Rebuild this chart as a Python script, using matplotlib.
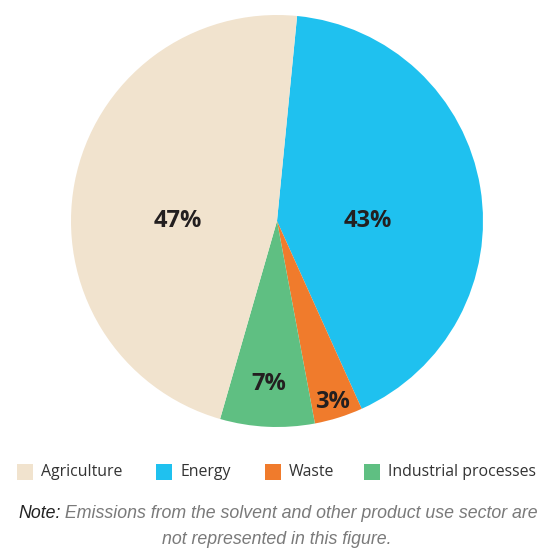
import matplotlib
matplotlib.use("Agg")
import numpy as np
import matplotlib.pyplot as plt
from matplotlib.patches import Rectangle

# ---- data (wedge sizes, labels as printed) ----
SECTORS = ["Energy", "Waste", "Industrial processes", "Agriculture"]
SHARES = [41.7, 3.8, 7.4, 47.1]
LABELS = ["43%", "3%", "7%", "47%"]
COLORS = ["#1FC1EF", "#F07B2C", "#5FBF82", "#F1E3CE"]
LEGEND_ORDER = ["Agriculture", "Energy", "Waste", "Industrial processes"]

# label placement (radius fraction, angle deg) - style only
LABEL_POS = [(0.44, 0), (0.92, -73), (0.79, -93), (0.48, 180)]
LEGEND_X = [17, 156, 265, 364]          # px, left edge of each legend swatch

W, H = 540, 548
fig = plt.figure(figsize=(W / 100, H / 100), dpi=100)

cx, cy, R = 277, 221, 206               # pie centre / radius in px
ax = fig.add_axes([(cx - R) / W, (H - cy - R) / H, 2 * R / W, 2 * R / H])
wedges, _ = ax.pie(SHARES, colors=COLORS, startangle=84.4, counterclock=False,
                   radius=1.0, wedgeprops=dict(linewidth=0))
for lab, (r, a) in zip(LABELS, LABEL_POS):
    t = np.deg2rad(a)
    ax.text(r * np.cos(t), r * np.sin(t), lab, ha="center", va="center",
            fontsize=17, fontweight="bold", color="#231F20", family="Open Sans")
ax.set_xlim(-1, 1); ax.set_ylim(-1, 1)
ax.set_aspect("equal")
ax.axis("off")

# ---- legend (swatch + text per entry, laid out on one row) ----
col = dict(zip(SECTORS, COLORS))
ly = 471.5
for name, x0 in zip(LEGEND_ORDER, LEGEND_X):
    fig.add_artist(Rectangle((x0 / W, 1 - (ly + 8) / H), 16 / W, 16 / H,
                             transform=fig.transFigure, facecolor=col[name],
                             edgecolor="none"))
    fig.text((x0 + 24) / W, 1 - ly / H, name, ha="left", va="center",
             color="#333333", family="Open Sans", fontsize=11.4)

# ---- note ----
note_kw = dict(family="Liberation Sans", style="italic", fontsize=12.8)
n1 = fig.text(18 / W, 1 - 513 / H, "Note:", color="#222222", va="center", ha="left", **note_kw)
fig.add_artist(plt.Annotation(" Emissions from the solvent and other product use sector are",
                              xy=(1, 0), xycoords=n1, va="bottom", ha="left",
                              color="#7A7A7A", **note_kw))
fig.text(277 / W, 1 - 540 / H, "not represented in this figure.", color="#7A7A7A",
         va="center", ha="center", **note_kw)

fig.savefig("out.png", dpi=100)
